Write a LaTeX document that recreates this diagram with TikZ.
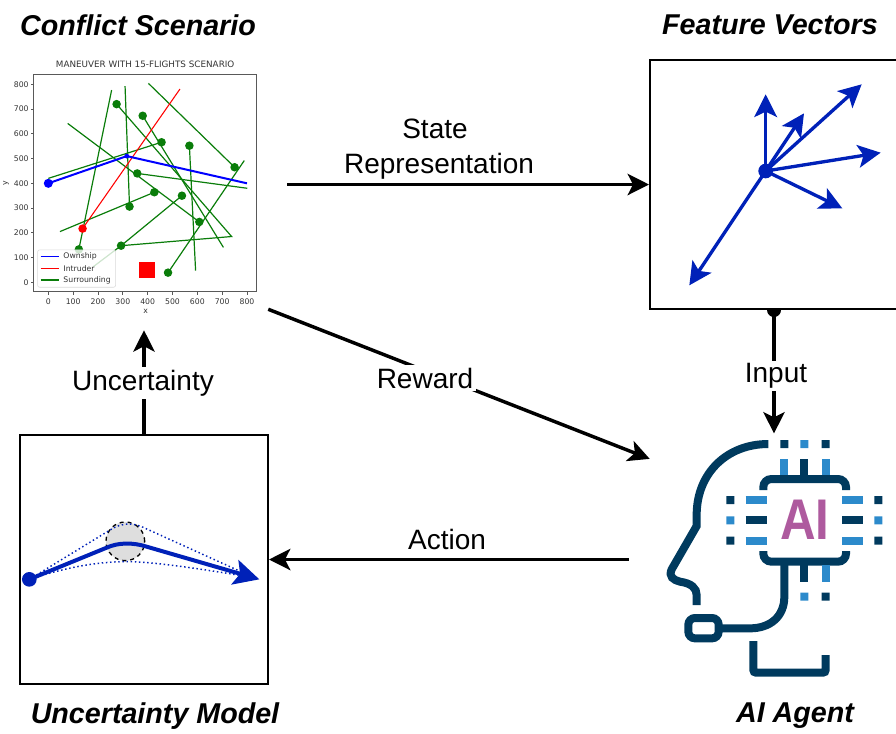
\documentclass[tikz,border=0pt]{standalone}
\usepackage{fontspec}
\setmainfont{Liberation Sans}
\newfontfamily\plotfont{DejaVu Sans}
\usepackage{xcolor}
\usepackage{tikz}
\usetikzlibrary{arrows.meta}

\definecolor{vecblue}{HTML}{0021B8}
\definecolor{ainavy}{HTML}{003A5E}
\definecolor{aiblue}{HTML}{2C8ACB}
\definecolor{aipurple}{HTML}{AE5A9E}
\definecolor{plotgreen}{HTML}{0A7D0A}
\definecolor{plottext}{HTML}{333333}

\tikzset{
  panel/.style={minimum width=186pt, minimum height=186.75pt, inner sep=0pt},
  framed/.style={panel, draw, line width=1.5pt},
  title/.style={font=\fontsize{21.5}{24}\selectfont\bfseries\itshape, inner sep=0pt},
  flowlabel/.style={font=\fontsize{21}{25}\selectfont, inner sep=2pt},
  mainarrow/.style={-{Stealth[length=16pt,width=16pt,inset=4pt]}, line width=2.6pt},
  vector/.style={-{Stealth[length=17pt,width=17pt,inset=4pt]}, vecblue, line width=2.5pt},
  xtick/.style={font=\plotfont\fontsize{5.8}{7}\selectfont, text=plottext, inner sep=0pt},
  plotleg/.style={font=\plotfont\fontsize{5.8}{7}\selectfont, text=plottext, inner sep=0pt, anchor=west},
  aistroke/.style={ainavy, line width=6pt},
  aipin/.style={aiblue, line width=6pt},
}

\begin{document}
\begin{tikzpicture}[x=0.75pt, y=-0.75pt]
\useasboundingbox (0,0) rectangle (896,733);

\node (scenario) [panel] at (144,184.5) {};
\node (features) [framed, right of=scenario, node distance=472.5pt] {};
\node (uncertainty) [framed, below of=scenario, node distance=281.25pt] {};
\node (agent) [panel, below of=features, node distance=281.25pt] {};

\node (scenariotitle) [title] at (138,25) {Conflict Scenario};
\node (featurestitle) [title] at (770,25) {Feature Vectors};
\node (uncertaintytitle) [title] at (155,716) {Uncertainty Model};
\node (agenttitle) [title] at (795,716) {AI Agent};

% scatter plot, data coordinates
\begin{scope}[shift={(48.3,282.3)}, x=0.1863pt, y=0.1856pt]
\draw[plotgreen, line width=0.9pt] (123,133) -- (255,777);
\draw[plotgreen, line width=0.9pt] (0,420) -- (456,566);
\draw[plotgreen, line width=0.9pt] (309,793) -- (327,306);
\draw[plotgreen, line width=0.9pt] (78,642) -- (608,244);
\draw[plotgreen, line width=0.9pt] (275,720) -- (738,185) -- (293,148);
\draw[plotgreen, line width=0.9pt] (380,673) -- (705,141);
\draw[plotgreen, line width=0.9pt] (403,804) -- (750,465);
\draw[plotgreen, line width=0.9pt] (568,552) -- (593,47);
\draw[plotgreen, line width=0.9pt] (358,440) -- (801,380);
\draw[plotgreen, line width=0.9pt] (47,205) -- (427,364);
\draw[plotgreen, line width=0.9pt] (482,39) -- (789,492);
\draw[plotgreen, line width=0.9pt] (538,350) -- (293,148) -- (181,63);
\draw[red, line width=0.8pt] (138,217) -- (530,781);
\fill[plotgreen] (123,133) circle (3.2pt) (456,566) circle (3.2pt) (327,306) circle (3.2pt)
  (608,244) circle (3.2pt) (275,720) circle (3.2pt) (293,148) circle (3.2pt)
  (380,673) circle (3.2pt) (750,465) circle (3.2pt) (568,552) circle (3.2pt)
  (358,440) circle (3.2pt) (427,364) circle (3.2pt) (482,39) circle (3.2pt)
  (538,350) circle (3.2pt);
\fill[red] (138,217) circle (3.2pt);
\fill[red] (367,16) rectangle (431,81);
\draw[blue, line width=1.5pt] (0,400) -- (316,510) -- (800,400);
\fill[blue] (0,400) circle (3.4pt);
\fill[blue] (316,510) circle (1.8pt);
\draw[black!65, line width=0.8pt] (-58,-38) rectangle (839,840);
\fill[white, fill opacity=0.8, draw=black!15, rounded corners=1.5pt] (-43,-20) rectangle (271,131);
\draw[blue, line width=1.2pt] (-31,105) -- (44,105);
\draw[red, line width=0.8pt] (-31,57) -- (44,57);
\draw[plotgreen, line width=0.9pt] (-31,9) -- (44,9);
\node (ownship) [plotleg] at (60,105) {Ownship};
\node (intruder) [plotleg] at (60,57) {Intruder};
\node (surrounding) [plotleg] at (60,9) {Surrounding};
\draw[black!65, line width=0.5pt] (0,-38) -- (0,-50) (100,-38) -- (100,-50) (200,-38) -- (200,-50)
  (300,-38) -- (300,-50) (400,-38) -- (400,-50) (500,-38) -- (500,-50) (600,-38) -- (600,-50)
  (700,-38) -- (700,-50) (800,-38) -- (800,-50);
\draw[black!65, line width=0.5pt] (-58,0) -- (-70,0) (-58,100) -- (-70,100) (-58,200) -- (-70,200)
  (-58,300) -- (-70,300) (-58,400) -- (-70,400) (-58,500) -- (-70,500) (-58,600) -- (-70,600)
  (-58,700) -- (-70,700) (-58,800) -- (-70,800);
\node (x0) [xtick] at (0,-78) {0};
\node (x100) [xtick] at (100,-78) {100};
\node (x200) [xtick] at (200,-78) {200};
\node (x300) [xtick] at (300,-78) {300};
\node (x400) [xtick] at (400,-78) {400};
\node (x500) [xtick] at (500,-78) {500};
\node (x600) [xtick] at (600,-78) {600};
\node (x700) [xtick] at (700,-78) {700};
\node (x800) [xtick] at (800,-78) {800};
\node (y0) [xtick, anchor=east] at (-78,0) {0};
\node (y100) [xtick, anchor=east] at (-78,100) {100};
\node (y200) [xtick, anchor=east] at (-78,200) {200};
\node (y300) [xtick, anchor=east] at (-78,300) {300};
\node (y400) [xtick, anchor=east] at (-78,400) {400};
\node (y500) [xtick, anchor=east] at (-78,500) {500};
\node (y600) [xtick, anchor=east] at (-78,600) {600};
\node (y700) [xtick, anchor=east] at (-78,700) {700};
\node (y800) [xtick, anchor=east] at (-78,800) {800};
\node (xname) [xtick] at (392,-118) {x};
\node (yname) [xtick, rotate=90] at (-170,400) {y};
\node (plottitle) [xtick, font=\plotfont\fontsize{6.6}{8}\selectfont] at (390,880) {MANEUVER WITH 15-FLIGHTS SCENARIO};
\end{scope}

% feature vectors
\begin{scope}[shift={(650,60)}, x=0.25pt, y=-0.25pt]
\draw[vector] (347,333) -- (347,103);
\draw[vector] (347,333) -- (462,160);
\draw[vector] (347,333) -- (635,73);
\draw[vector] (347,333) -- (692,278);
\draw[vector] (347,333) -- (577,445);
\draw[vector] (347,333) -- (118,676);
\fill[vecblue] (347,333) circle (5.5pt);
\end{scope}

% uncertainty model
\begin{scope}[shift={(10,480)}, x=0.25pt, y=-0.25pt]
\draw[dashed, fill=black!13, line width=1pt] (346,184) circle (14.5pt);
\draw[vecblue, dotted, line width=1.1pt] (58,298) -- (300,150) .. controls (325,133) and (360,125) .. (395,140) -- (715,285);
\draw[vecblue, dotted, line width=1.1pt] (58,298) .. controls (190,255) and (280,245) .. (350,245) .. controls (430,245) and (560,265) .. (715,290);
\draw[vector, line width=3pt, -{Stealth[length=19pt,width=19pt,inset=4pt]}] (58,298) -- (290,203) .. controls (325,187) and (370,187) .. (410,200) -- (748,298);
\fill[vecblue] (58,298) circle (5.5pt);
\end{scope}

% AI agent icon
\begin{scope}[shift={(650,430)}, x=0.25pt, y=-0.25pt]
\draw[aistroke] (355,42) .. controls (230,42) and (140,130) .. (140,255) -- (140,288) -- (65,418)
  .. controls (55,440) and (70,450) .. (90,455) .. controls (125,460) and (140,475) .. (140,495) -- (140,525);
\draw[aistroke] (403,400) -- (403,500) .. controls (403,560) and (360,595) .. (300,595) -- (205,595);
\draw[aistroke, rounded corners=5pt] (115,564) rectangle (206,625);
\draw[aistroke, rounded corners=2pt] (310,633) -- (310,728) -- (527,728) -- (527,675);
\draw[aistroke, rounded corners=6pt] (340,180) -- (340,147) -- (588,147) -- (588,180);
\draw[aistroke, rounded corners=6pt] (340,363) -- (340,395) -- (588,395) -- (588,363);
\draw[aistroke] (463,88) -- (463,147) (463,395) -- (463,455) (287,271) -- (350,271) (577,271) -- (640,271);
\draw[aipin] (403,88) -- (403,135) (527,88) -- (527,135) (527,405) -- (527,455);
\draw[aipin] (287,210) -- (350,210) (287,332) -- (350,332) (577,210) -- (640,210) (577,332) -- (640,332);
\fill[ainavy] (391,30) rectangle +(24,24) (515,30) rectangle +(24,24) (515,488) rectangle +(24,24)
  (229,198) rectangle +(24,24) (229,320) rectangle +(24,24) (673,198) rectangle +(24,24) (673,320) rectangle +(24,24);
\fill[aiblue] (451,30) rectangle +(24,24) (451,488) rectangle +(24,24) (229,259) rectangle +(24,24) (673,259) rectangle +(24,24);
\node (ailogo) [text=aipurple, font=\fontsize{43}{43}\selectfont\bfseries, xscale=0.86, inner sep=0pt] at (464,270) {AI};
\end{scope}

% flow between the parts
\draw[mainarrow, shorten <=14.25pt] (scenario.east) -- (features.west);
\draw[mainarrow, shorten >=1pt] (features.south) -- (agent.north);
\fill (features.south) ++(-7,0) arc[start angle=180, end angle=0, radius=7] -- cycle;
\draw[mainarrow] (scenario.south east) -- (agent.141.8);
\draw[mainarrow, shorten <=15.75pt] (agent.west) -- (uncertainty.east);
\draw[mainarrow, shorten >=15.75pt] (uncertainty.north) -- (scenario.south);

\node (state) [flowlabel] at (435,129) {State};
\node (representation) [flowlabel] at (439,166) {Representation};
\node (input) [flowlabel, fill=white] at (776,376) {Input};
\node (reward) [flowlabel, fill=white] at (425,378) {Reward};
\node (action) [flowlabel] at (447,539) {Action};
\node (uncertaintylabel) [flowlabel, fill=white] at (143,383) {Uncertainty};
\end{tikzpicture}
\end{document}
